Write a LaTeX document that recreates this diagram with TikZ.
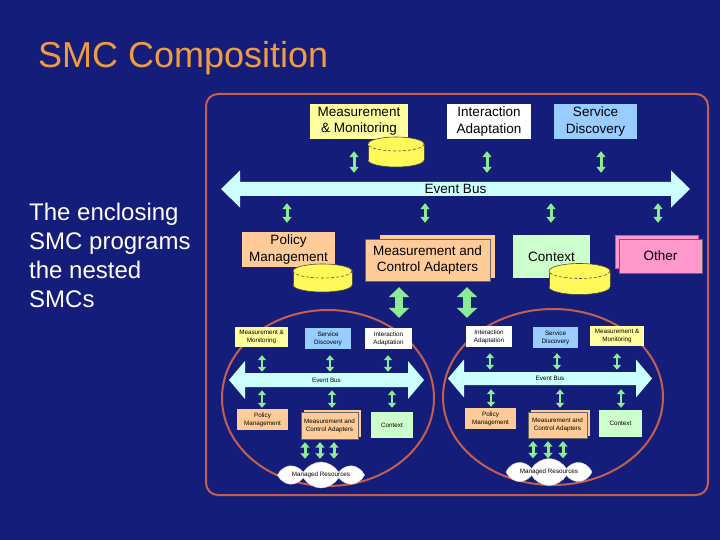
\documentclass[tikz,border=0pt]{standalone}
\usepackage{fontspec}
\setmainfont{Liberation Sans}
\usetikzlibrary{arrows.meta,shapes.symbols,calc}
\definecolor{bg}{RGB}{20,30,122}
\definecolor{titlec}{RGB}{240,155,65}
\definecolor{framec}{RGB}{195,95,80}
\definecolor{ylw}{RGB}{255,255,160}
\definecolor{blu}{RGB}{153,204,255}
\definecolor{sal}{RGB}{255,204,153}
\definecolor{grn}{RGB}{204,255,204}
\definecolor{pnk}{RGB}{255,153,204}
\definecolor{busc}{RGB}{204,255,255}
\definecolor{arrc}{RGB}{140,235,150}
\definecolor{cylc}{RGB}{255,250,90}
\newcommand\myboxfont{\fontsize{13.5}{16.5}\selectfont}
\newcommand\mytinyfont{\fontsize{6.3}{7.8}\selectfont}
% bus polygon: x1 x2 yc shaft-half head-half head-length
\newcommand\busshape[6]{%
  \fill[busc] (#1,#3) -- (#1+#6,#3-#5) -- (#1+#6,#3-#4) -- (#2-#6,#3-#4) -- (#2-#6,#3-#5)
    -- (#2,#3) -- (#2-#6,#3+#5) -- (#2-#6,#3+#4) -- (#1+#6,#3+#4) -- (#1+#6,#3+#5) -- cycle;}
% cylinder: cx, top cy, bottom cy, rx, ry
\newcommand\mycyl[5]{%
  \filldraw[fill=cylc, draw=black!70, line width=0.6pt] (#1,#3) ellipse [x radius=#4, y radius=#5];
  \fill[cylc] (#1-#4,#2) rectangle (#1+#4,#3);
  \draw[black!70, line width=0.6pt] (#1-#4,#2) -- (#1-#4,#3) (#1+#4,#2) -- (#1+#4,#3);
  \fill[cylc] (#1,#2) ellipse [x radius=#4, y radius=#5];
  \begin{scope}\clip (#1-#4-2,#2-#5-2) rectangle (#1+#4+2,#2);
    \draw[black!70, line width=0.6pt] (#1,#2) ellipse [x radius=#4, y radius=#5];\end{scope}
  \begin{scope}\clip (#1-#4-2,#2) rectangle (#1+#4+2,#2+#5+2);
    \draw[black!70, line width=0.6pt, dash pattern=on 3pt off 2pt] (#1,#2) ellipse [x radius=#4, y radius=#5];\end{scope}
}
\begin{document}
\begin{tikzpicture}[x=1pt,y=-1pt,
  box/.style={inner sep=0pt, align=center, text=black, font=\myboxfont},
  nbox/.style={inner sep=0pt, align=center, text=black, font=\mytinyfont},
  busnode/.style={inner sep=0pt, text=black},
  sarr/.style={draw=arrc, line width=3pt, arrows={Triangle[width=9pt,length=6pt]-Triangle[width=9pt,length=6pt]}},
  narr/.style={draw=arrc, line width=2.5pt, arrows={Triangle[width=8pt,length=5pt]-Triangle[width=8pt,length=5pt]}},
  marr/.style={draw=arrc, line width=3pt, arrows={Triangle[width=9pt,length=5.5pt]-Triangle[width=9pt,length=5.5pt]}},
  barr/.style={draw=arrc, line width=8pt, arrows={Triangle[width=20pt,length=10pt]-Triangle[width=20pt,length=10pt]}},
  cld/.style={cloud, cloud ignores aspect, cloud puffs=8, cloud puff arc=120, fill=white, draw=gray!30, inner sep=0pt, font=\mytinyfont, text=black},
  ring/.style={draw=framec, line width=2pt}
]
\useasboundingbox (0,0) rectangle (720,540);
\fill[bg] (0,0) rectangle (720,540);

% title and side text
\node[anchor=base west, inner sep=0pt, text=titlec, font=\fontsize{36}{40}\selectfont] (title) at (38,68) {SMC Composition};
\node[anchor=north west, inner sep=0pt, align=left, text=white, font=\fontsize{24}{29}\selectfont] (side) at (29,203)
  {The enclosing\\SMC programs\\the nested\\SMCs};

% outer frame
\draw[framec, line width=2pt, rounded corners=12pt] (206,94) rectangle (708,495);

% ---------- enclosing SMC ----------
\node[box, fill=ylw, minimum width=98pt, minimum height=35pt] (mm) at (359,121.5) {Measurement\\\& Monitoring};
\node[box, fill=white, minimum width=84pt, minimum height=35pt] (ia) at (489,121.5) {Interaction\\Adaptation};
\node[box, fill=blu, minimum width=83pt, minimum height=35pt] (sd) at (595.5,121.5) {Service\\Discovery};

\busshape{221}{690}{189}{7}{18.5}{19}
\node[busnode, font=\myboxfont, minimum width=431pt, minimum height=14pt] (bus) at (455.5,189) {Event Bus};

\node[box, fill=sal, minimum width=93pt, minimum height=35pt] (pm) at (288.5,249.5) {Policy\\Management};
\node[box, fill=sal, minimum width=115pt, minimum height=43pt] (mcab) at (437.5,256.5) {};
\node[box, fill=sal, draw=black!60, line width=0.4pt, minimum width=125pt, minimum height=42pt] (mca) at (427.5,260) {Measurement and\\Control Adapters};
\node[box, fill=grn, minimum width=77pt, minimum height=43pt] (ctx) at (551.5,256.5) {Context};
\node[box, fill=pnk, draw=magenta!60!pnk, line width=0.4pt, minimum width=83pt, minimum height=33pt] (othb) at (656.5,251.5) {};
\node[box, fill=pnk, draw=black!60, line width=0.4pt, minimum width=83pt, minimum height=34pt] (oth) at (660.5,256) {Other};

\mycyl{396}{144}{160}{28}{7}
\mycyl{322.5}{271}{285}{29.5}{7}
\mycyl{579.5}{271}{287}{30.5}{7.5}

\draw[sarr, shorten <=12pt, shorten >=9pt] ([xshift=-5pt]mm.south) -- ([xshift=-5pt]mm.south |- bus.north);
\draw[sarr, shorten <=12pt, shorten >=9pt] ([xshift=-2pt]ia.south) -- ([xshift=-2pt]ia.south |- bus.north);
\draw[sarr, shorten <=12pt, shorten >=9pt] ([xshift=5.5pt]sd.south) -- ([xshift=5.5pt]sd.south |- bus.north);
\draw[sarr, shorten <=9pt, shorten >=7pt] ([xshift=-1.5pt]pm.north) -- ([xshift=-1.5pt]pm.north |- bus.south);
\draw[sarr, shorten <=16pt, shorten >=7pt] ([xshift=-2.5pt]mca.north) -- ([xshift=-2.5pt]mca.north |- bus.south);
\draw[sarr, shorten <=12pt, shorten >=7pt] ([xshift=-0.5pt]ctx.north) -- ([xshift=-0.5pt]ctx.north |- bus.south);
\draw[sarr, shorten <=16pt, shorten >=7pt] ([xshift=-2.5pt]oth.north) -- ([xshift=-2.5pt]oth.north |- bus.south);

% ---------- nested SMC rings ----------
\draw[ring] (328,398) ellipse [x radius=106, y radius=88];
\draw[ring] (553,397) ellipse [x radius=110, y radius=88];

% ---------- left nested SMC ----------
\node[nbox, fill=ylw, minimum width=53pt, minimum height=20pt] (lmm) at (261.5,337) {Measurement \&\\Monitoring};
\node[nbox, fill=blu, minimum width=46pt, minimum height=21pt] (lsd) at (328,338.5) {Service\\Discovery};
\node[nbox, fill=white, minimum width=47pt, minimum height=21pt] (lia) at (388.5,338.5) {Interaction\\Adaptation};
\busshape{229}{424}{380}{7}{19}{16}
\node[busnode, font=\mytinyfont, minimum width=163pt, minimum height=14pt] (lbus) at (326.5,380) {Event Bus};
\node[nbox, fill=sal, minimum width=51pt, minimum height=21pt] (lpm) at (262.5,419.5) {Policy\\Management};
\node[nbox, fill=sal, minimum width=57pt, minimum height=27pt] (lmcab) at (332.5,423.5) {};
\node[nbox, fill=sal, draw=black!60, line width=0.3pt, minimum width=57pt, minimum height=27pt] (lmca) at (329.5,425.5) {Measurement and\\Control Adapters};
\node[nbox, fill=grn, minimum width=42pt, minimum height=26pt] (lctx) at (392,425) {Context};
\node[cld, minimum width=87pt, minimum height=26pt] (lcl) at (321,475) {Managed Resources};

\draw[narr, shorten <=8pt, shorten >=1pt] ([xshift=0.5pt]lmm.south) -- ([xshift=0.5pt]lmm.south |- lbus.north);
\draw[narr, shorten <=6pt, shorten >=1pt] ([xshift=2pt]lsd.south) -- ([xshift=2pt]lsd.south |- lbus.north);
\draw[narr, shorten <=6pt, shorten >=1pt] ([xshift=-0.5pt]lia.south) -- ([xshift=-0.5pt]lia.south |- lbus.north);
\draw[narr, shorten <=1pt, shorten >=3pt] ([xshift=-0.5pt]lpm.north) -- ([xshift=-0.5pt]lpm.north |- lbus.south);
\draw[narr, shorten <=4pt, shorten >=3pt] ([xshift=2.5pt]lmca.north) -- ([xshift=2.5pt]lmca.north |- lbus.south);
\draw[narr, shorten <=4pt, shorten >=3pt] (lctx.north) -- (lctx.north |- lbus.south);
\draw[marr, shorten <=3pt, shorten >=3pt] ([xshift=-16pt]lcl.north |- lmca.south) -- ([xshift=-16pt]lcl.north);
\draw[marr, shorten <=3pt, shorten >=3pt] ([xshift=-1pt]lcl.north |- lmca.south) -- ([xshift=-1pt]lcl.north);
\draw[marr, shorten <=3pt, shorten >=3pt] ([xshift=13pt]lcl.north |- lmca.south) -- ([xshift=13pt]lcl.north);

% ---------- right nested SMC ----------
\node[nbox, fill=white, minimum width=46pt, minimum height=21pt] (ria) at (489,336.5) {Interaction\\Adaptation};
\node[nbox, fill=blu, minimum width=45pt, minimum height=21pt] (rsd) at (555.5,337.5) {Service\\Discovery};
\node[nbox, fill=ylw, minimum width=54pt, minimum height=20pt] (rmm) at (617,336) {Measurement \&\\Monitoring};
\busshape{448}{652}{378.5}{6.5}{19}{16}
\node[busnode, font=\mytinyfont, minimum width=172pt, minimum height=13pt] (rbus) at (550,378.5) {Event Bus};
\node[nbox, fill=sal, minimum width=51pt, minimum height=21pt] (rpm) at (490.5,418.5) {Policy\\Management};
\node[nbox, fill=sal, minimum width=59pt, minimum height=26pt] (rmcab) at (560.5,423) {};
\node[nbox, fill=sal, draw=black!60, line width=0.3pt, minimum width=59pt, minimum height=26pt] (rmca) at (557.5,425) {Measurement and\\Control Adapters};
\node[nbox, fill=grn, minimum width=43pt, minimum height=27pt] (rctx) at (620.5,423.5) {Context};
\node[cld, minimum width=86pt, minimum height=27pt] (rcl) at (549,472) {Managed Resources};

\draw[narr, shorten <=6pt, shorten >=2pt] ([xshift=1pt]ria.south) -- ([xshift=1pt]ria.south |- rbus.north);
\draw[narr, shorten <=5pt, shorten >=2pt] ([xshift=1.5pt]rsd.south) -- ([xshift=1.5pt]rsd.south |- rbus.north);
\draw[narr, shorten <=7pt, shorten >=2pt] (rmm.south) -- (rmm.south |- rbus.north);
\draw[narr, shorten <=1pt, shorten >=4pt] ([xshift=0.5pt]rpm.north) -- ([xshift=0.5pt]rpm.north |- rbus.south);
\draw[narr, shorten <=4pt, shorten >=4pt] ([xshift=2.5pt]rmca.north) -- ([xshift=2.5pt]rmca.north |- rbus.south);
\draw[narr, shorten <=2pt, shorten >=4pt] ([xshift=0.5pt]rctx.north) -- ([xshift=0.5pt]rctx.north |- rbus.south);
\draw[marr, shorten <=3pt, shorten >=0pt] ([xshift=-16pt]rcl.north |- rmca.south) -- ([xshift=-16pt]rcl.north);
\draw[marr, shorten <=3pt, shorten >=0pt] ([xshift=-1pt]rcl.north |- rmca.south) -- ([xshift=-1pt]rcl.north);
\draw[marr, shorten <=3pt, shorten >=0pt] ([xshift=14pt]rcl.north |- rmca.south) -- ([xshift=14pt]rcl.north);

% ---------- enclosing SMC programs the nested SMCs ----------
\draw[barr, shorten <=6pt, shorten >=10pt] ([xshift=-28.5pt]mca.south) -- ([xshift=-28.5pt]mca.south |- lia.north);
\draw[barr, shorten <=6pt, shorten >=8pt] ([xshift=39.5pt]mca.south) -- ([xshift=39.5pt]mca.south |- ria.north);
\end{tikzpicture}
\end{document}
